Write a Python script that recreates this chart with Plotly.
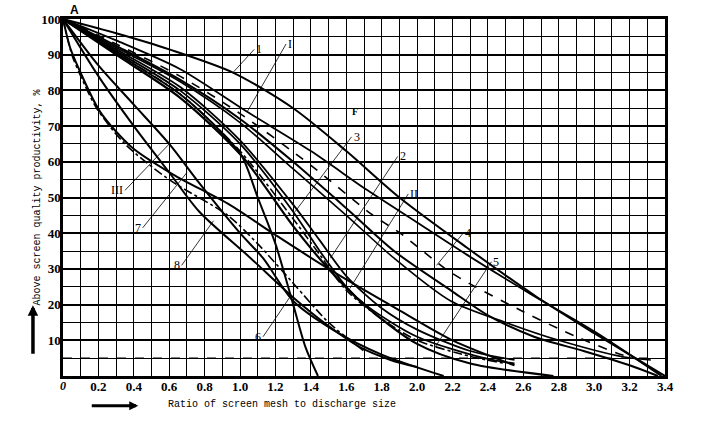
import plotly.graph_objects as go

# ---- data ----
x_ticks = [0.2, 0.4, 0.6, 0.8, 1.0, 1.2, 1.4, 1.6, 1.8, 2.0, 2.2, 2.4, 2.6, 2.8, 3.0, 3.2, 3.4]
y_ticks = [10, 20, 30, 40, 50, 60, 70, 80, 90, 100]

# upper group (run out towards B)
c1_x = [0, 0.3, 0.6, 0.96, 1.3, 1.6, 1.9, 2.28, 2.68, 3.0, 3.4]
c1_y = [100, 96, 91.5, 85, 75, 63, 50, 36, 22, 12, 0]
cI_x = [0, 0.3, 0.66, 1.04, 1.4, 1.72, 2.0, 2.28, 2.64, 3.0, 3.38]
cI_y = [100, 94, 86, 74, 63, 52, 43, 34, 23, 12.5, 0]
cd_x = [0, 0.3, 0.66, 1.0, 1.4, 1.74, 1.91, 2.19, 2.6, 2.9, 3.13, 3.22]
cd_y = [100, 93, 84, 73.5, 59, 45.4, 39.8, 29, 18, 11, 6.4, 5]
c4_x = [0, 0.3, 0.66, 1.0, 1.3, 1.6, 1.87, 2.19, 2.4, 2.66, 2.94, 3.2, 3.36]
c4_y = [100, 92.5, 83, 72, 60, 47, 35, 24, 17, 11, 7, 3, 0]
c9_x = [0, 0.3, 0.66, 1.0, 1.3, 1.6, 1.87, 2.19, 2.5, 2.8, 3.17, 3.32]
c9_y = [100, 92, 82.5, 71, 58, 45, 33, 21, 15, 10, 5.3, 4.5]

# middle S-shaped bundle
c3_x = [0, 0.3, 0.66, 1.0, 1.3, 1.45, 1.6, 1.8, 2.0, 2.3, 2.55]
c3_y = [100, 91.5, 81, 66, 48, 38, 28, 19, 13, 7, 4.5]
c2_x = [0, 0.3, 0.66, 1.0, 1.3, 1.45, 1.6, 1.72, 2.0, 2.38, 2.55]
c2_y = [100, 91, 80, 65, 46, 35, 25, 19.5, 11, 5, 3.5]
cII_x = [0, 0.3, 0.66, 1.0, 1.3, 1.45, 1.6, 1.8, 2.0, 2.3, 2.5]
cII_y = [100, 90.5, 79, 63, 44, 34, 24, 16, 10, 5.5, 3.5]
c5_x = [0, 0.3, 0.66, 1.01, 1.3, 1.5, 1.7, 2.0, 2.3, 2.77]
c5_y = [100, 90, 78, 61.6, 42, 30, 20, 9, 3.5, 0]

# lower-left group
c6_x = [0, 0.3, 0.66, 0.9, 1.01, 1.1, 1.2, 1.3, 1.37, 1.44]
c6_y = [100, 90.5, 79, 68, 61.6, 50, 37, 20, 8, 0]
cIII_x = [0, 0.2, 0.4, 0.6, 0.77, 1.0, 1.13, 1.3, 1.53, 1.8, 2.15]
cIII_y = [100, 87, 76, 65, 54, 40, 33, 21, 12.8, 6, 0]
c8_x = [0, 0.2, 0.4, 0.6, 0.77, 1.06, 1.3, 1.5, 1.68, 1.85, 2.0]
c8_y = [100, 84, 70, 57, 46, 33, 22, 14, 8, 4.5, 2.5]
c7_x = [0, 0.04, 0.09, 0.21, 0.39, 0.62, 0.94, 1.2, 1.5, 1.9, 2.2, 2.55]
c7_y = [100, 92, 86, 74, 64, 56.5, 48, 39.5, 30, 18.4, 10, 3]
cdd_x = [0, 0.05, 0.1, 0.19, 0.35, 0.6, 0.93, 1.1, 1.3, 1.5, 1.7]
cdd_y = [100, 90, 84, 75, 65, 55, 45, 37, 26, 15, 7]

limit_y = 5

fig = go.Figure()

def line(x, y, dash="solid", w=2.0):
    fig.add_trace(go.Scatter(x=x, y=y, mode="lines",
                             line=dict(color="black", width=w, dash=dash, shape="spline", smoothing=0.8),
                             showlegend=False, hoverinfo="skip"))

line(c1_x, c1_y)
line(cI_x, cI_y, w=1.8)
line(cd_x, cd_y, dash="dash", w=1.6)
line(c4_x, c4_y)
line(c9_x, c9_y, w=1.6)
line(c3_x, c3_y, w=1.8)
line(c2_x, c2_y, w=1.8)
line(cII_x, cII_y, dash="dashdot", w=1.6)
line(c5_x, c5_y, w=2.2)
line(c6_x, c6_y, w=2.0)
line(cIII_x, cIII_y, w=2.0)
line(c8_x, c8_y, w=2.0)
line(c7_x, c7_y, w=2.0)
line(cdd_x, cdd_y, dash="dashdot", w=1.6)

# 5 % limit line
fig.add_trace(go.Scatter(x=[0, 3.3], y=[limit_y, limit_y], mode="lines",
                         line=dict(color="black", width=1.2, dash="dash"), showlegend=False, hoverinfo="skip"))

# labels with leader lines (data coords): text, text x, text y, point x, point y
labels = [
    ("1", 1.08, 91.5, 0.96, 85),
    ("I", 1.26, 93, 1.04, 74),
    ("3", 1.63, 67, 1.31, 46),
    ("2", 1.89, 61.5, 1.51, 33),
    ("II", 1.95, 51, 1.62, 24.5),
    ("4", 2.26, 40, 2.11, 31),
    ("5", 2.42, 32, 2.1, 8),
    ("6", 1.13, 11, 1.28, 22),
    ("7", 0.45, 41.5, 0.7, 57),
    ("8", 0.67, 31, 0.85, 43.5),
    ("III", 0.35, 52, 0.6, 65),
]
for t, tx, ty, px, py in labels:
    fig.add_trace(go.Scatter(x=[tx, px], y=[ty, py], mode="lines", line=dict(color="black", width=0.8),
                             showlegend=False, hoverinfo="skip"))
    fig.add_annotation(x=tx, y=ty, text=t, showarrow=False, xanchor="right" if tx < px else "left",
                       yanchor="middle", font=dict(family="Liberation Serif", size=12, color="black"))

# small "F" mark in the reference
fig.add_annotation(x=1.65, y=74, text="<b>F</b>", showarrow=False, xanchor="center", yanchor="middle",
                   font=dict(family="Liberation Serif", size=10, color="black"))

fig.add_annotation(x=0.03, y=100, yshift=9, text="<b>A</b>", showarrow=False, xanchor="left", yanchor="middle",
                   font=dict(family="Liberation Sans", size=12, color="black"))
fig.add_annotation(x=3.42, y=3.2, text="<b>B</b>", showarrow=False, xanchor="left", yanchor="middle",
                   font=dict(family="Liberation Serif", size=14, color="black"))
fig.add_annotation(x=0, y=0, text="<b><i>0</i></b>", showarrow=False, xanchor="center", yanchor="top", yshift=-1,
                   font=dict(family="Liberation Serif", size=12, color="black"))

fig.update_xaxes(range=[0, 3.4], tickvals=x_ticks, ticktext=[f"<b>{v:.1f}</b>" for v in x_ticks],
                 showgrid=True, gridcolor="black", gridwidth=1.4,
                 showline=True, linecolor="black", linewidth=2.5, mirror=True, ticks="",
                 tickfont=dict(family="Liberation Serif", size=13, color="black"), zeroline=False,
                 ticklabelstandoff=-3,
                 minor=dict(showgrid=True, gridcolor="black", gridwidth=1.4, dtick=0.1, tick0=0))
fig.update_yaxes(range=[0, 100], tickvals=y_ticks, ticktext=[f"<b>{v}</b>" for v in y_ticks],
                 showgrid=True, gridcolor="black", gridwidth=1.7,
                 showline=True, linecolor="black", linewidth=2.5, mirror=True, ticks="",
                 tickfont=dict(family="Liberation Serif", size=13, color="black"), zeroline=False,
                 ticklabelstandoff=-3,
                 minor=dict(showgrid=True, gridcolor="black", gridwidth=1.4, dtick=5, tick0=0))

# axis titles as annotations placed like the reference
fig.add_annotation(xref="paper", yref="paper", x=-0.0416, y=0.5, text="Above screen quality productivity, %",
                   textangle=-90, showarrow=False, xanchor="center", yanchor="middle",
                   font=dict(family="Liberation Mono", size=10, color="black"))
fig.add_annotation(xref="paper", yref="paper", x=0.364, y=-0.08, text="Ratio of screen mesh to discharge size",
                   showarrow=False, xanchor="center", yanchor="middle",
                   font=dict(family="Liberation Mono", size=10, color="black"))
# direction arrows beside the titles
fig.add_annotation(xref="paper", yref="paper", x=-0.0499, y=0.198, ax=0, ay=50, text="", showarrow=True,
                   arrowhead=2, arrowsize=0.6, arrowwidth=3.5, arrowcolor="black")
fig.add_annotation(xref="paper", yref="paper", x=0.125, y=-0.0836, ax=-48, ay=0, text="", showarrow=True,
                   arrowhead=2, arrowsize=0.6, arrowwidth=3, arrowcolor="black")

fig.update_layout(width=712, height=422, margin=dict(l=63, r=47, t=17, b=46),
                  paper_bgcolor="white", plot_bgcolor="white")
fig.write_html("out.html")
